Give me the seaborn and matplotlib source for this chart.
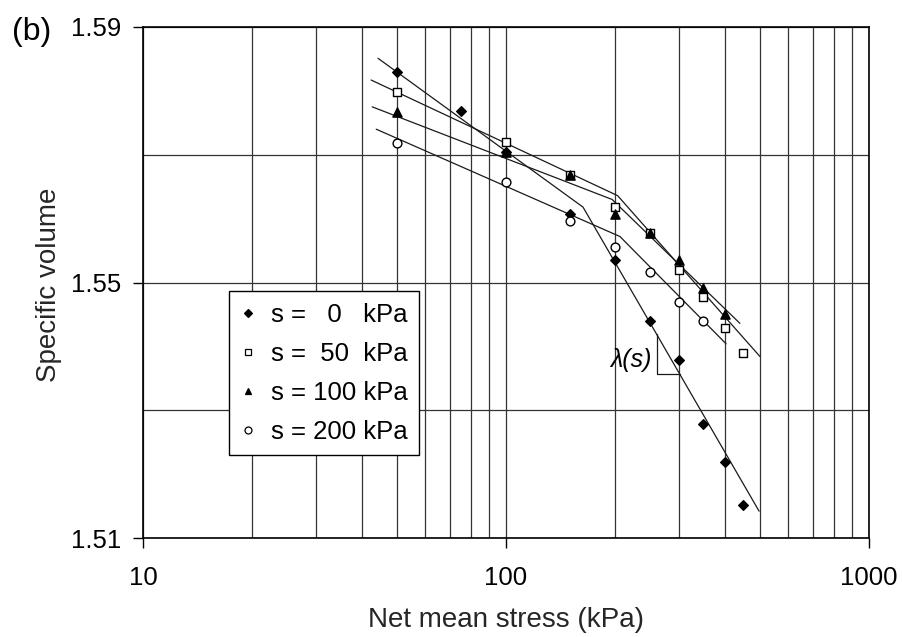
import numpy as np
import pandas as pd
import matplotlib
matplotlib.use("Agg")
import matplotlib.pyplot as plt
from matplotlib.lines import Line2D
from matplotlib.ticker import FixedLocator, FixedFormatter, LogLocator, NullFormatter
import seaborn as sns

# ---------------- data ----------------
series_labels = ["s =   0   kPa", "s =  50  kPa", "s = 100 kPa", "s = 200 kPa"]

stress_s0 = [50, 75, 100, 150, 200, 250, 300, 350, 400, 450]
volume_s0 = [1.5829, 1.5768, 1.5704, 1.5608, 1.5536, 1.5439, 1.5379, 1.5279, 1.5219, 1.5152]

stress_s50 = [50, 100, 150, 200, 250, 300, 350, 400, 450]
volume_s50 = [1.5798, 1.5720, 1.5668, 1.5618, 1.5577, 1.5519, 1.5478, 1.5429, 1.5390]

stress_s100 = [50, 100, 150, 200, 250, 300, 350, 400]
volume_s100 = [1.5767, 1.5705, 1.5668, 1.5607, 1.5577, 1.5536, 1.5491, 1.5450]

stress_s200 = [50, 100, 150, 200, 250, 300, 350]
volume_s200 = [1.5718, 1.5657, 1.5596, 1.5556, 1.5517, 1.5469, 1.5440]

# bilinear fitted lines (start, yield point, end)
fit_stress_s0 = [44.4, 163, 498]
fit_volume_s0 = [1.5851, 1.5618, 1.5142]
fit_stress_s50 = [42.5, 203, 501]
fit_volume_s50 = [1.5817, 1.5636, 1.5384]
fit_stress_s100 = [42.8, 196, 441]
fit_volume_s100 = [1.5775, 1.5630, 1.5436]
fit_stress_s200 = [43.9, 206, 404]
fit_volume_s200 = [1.5740, 1.5572, 1.5404]

# slope triangle for lambda(s)
slope_tri_stress = [260.6, 260.6, 301.0]
slope_tri_volume = [1.5420, 1.5356, 1.5356]
slope_label = "λ(s)"

x_tick_values = [10, 100, 1000]
x_tick_labels = ["10", "100", "1000"]
y_tick_values = [1.51, 1.55, 1.59]
y_tick_labels = ["1.51", "1.55", "1.59"]
y_grid_values = [1.53, 1.57]

x_label = "Net mean stress (kPa)"
y_label = "Specific volume"
panel_label = "(b)"

# ---------------- style ----------------
sns.set_theme(style="white")
plt.rcParams["font.family"] = ["Liberation Sans", "DejaVu Sans"]
plt.rcParams["axes.edgecolor"] = "black"
plt.rcParams["text.color"] = "black"
plt.rcParams["xtick.color"] = "black"
plt.rcParams["ytick.color"] = "black"

fig = plt.figure(figsize=(9.02, 6.37), dpi=100)
ax = fig.add_axes([143 / 902, 1 - 538 / 637, (869 - 143) / 902, (538 - 27) / 637])

points = pd.concat([
    pd.DataFrame({"stress": stress_s0, "volume": volume_s0, "series": series_labels[0]}),
    pd.DataFrame({"stress": stress_s50, "volume": volume_s50, "series": series_labels[1]}),
    pd.DataFrame({"stress": stress_s100, "volume": volume_s100, "series": series_labels[2]}),
    pd.DataFrame({"stress": stress_s200, "volume": volume_s200, "series": series_labels[3]}),
], ignore_index=True)

fits = pd.concat([
    pd.DataFrame({"stress": fit_stress_s0, "volume": fit_volume_s0, "series": series_labels[0]}),
    pd.DataFrame({"stress": fit_stress_s50, "volume": fit_volume_s50, "series": series_labels[1]}),
    pd.DataFrame({"stress": fit_stress_s100, "volume": fit_volume_s100, "series": series_labels[2]}),
    pd.DataFrame({"stress": fit_stress_s200, "volume": fit_volume_s200, "series": series_labels[3]}),
], ignore_index=True)

ax.set_xscale("log")
ax.set_axisbelow(True)

for lab in series_labels:
    sub = fits[fits["series"] == lab]
    sns.lineplot(data=sub, x="stress", y="volume", estimator=None, sort=False,
                 color="#1a1a1a", linewidth=0.9, ax=ax, legend=False)

sns.lineplot(x=slope_tri_stress, y=slope_tri_volume, estimator=None, sort=False,
             color="#1a1a1a", linewidth=0.9, ax=ax, legend=False)

marker_styles = {
    series_labels[0]: dict(marker="D", s=24, color="black"),
    series_labels[1]: dict(marker="s", s=38, color="white"),
    series_labels[2]: dict(marker="^", s=44, color="black"),
    series_labels[3]: dict(marker="o", s=40, color="white"),
}
for lab in series_labels:
    sub = points[points["series"] == lab]
    st = marker_styles[lab]
    sns.scatterplot(data=sub, x="stress", y="volume", marker=st["marker"], s=st["s"],
                    color=st["color"], edgecolor="black", linewidth=1.0, ax=ax,
                    legend=False, zorder=4)

ax.set_xlim(10, 1000)
ax.set_ylim(1.51, 1.59)

ax.xaxis.set_major_locator(FixedLocator(x_tick_values))
ax.xaxis.set_major_formatter(FixedFormatter(x_tick_labels))
ax.xaxis.set_minor_locator(LogLocator(base=10, subs=np.arange(2, 10)))
ax.xaxis.set_minor_formatter(NullFormatter())
ax.set_yticks(y_tick_values, labels=y_tick_labels)
ax.set_yticks(y_grid_values, minor=True)

ax.grid(True, which="both", color="#333333", linewidth=0.9)
ax.tick_params(which="major", direction="out", length=7, width=1.0, labelsize=18.5,
               bottom=True, left=True)
ax.tick_params(axis="x", which="major", pad=13)
ax.tick_params(axis="y", which="major", pad=9)
ax.tick_params(which="minor", length=0)
for sp in ax.spines.values():
    sp.set_color("black")
    sp.set_linewidth(1.2)

ax.set_xlabel(x_label, fontsize=20)
ax.set_ylabel(y_label, fontsize=20)
ax.xaxis.set_label_coords(0.5, -0.135)
ax.yaxis.set_label_coords(-0.112, 0.495)

ax.text(252, 1.5378, slope_label, fontsize=18, style="italic", ha="right", va="center",
        zorder=5)

fig.text(12 / 902, 1 - 32 / 637, panel_label, fontsize=23, ha="left", va="center")

# legend
handles = []
for lab in series_labels:
    st = marker_styles[lab]
    handles.append(Line2D([], [], linestyle="none", marker=st["marker"],
                          markersize=5 if st["marker"] != "D" else 4,
                          markerfacecolor=st["color"], markeredgecolor="black",
                          markeredgewidth=0.9))
leg = ax.legend(handles, series_labels, loc="lower left", bbox_to_anchor=(0.118, 0.162),
                borderaxespad=0, fontsize=18.5, frameon=True, fancybox=False,
                handlelength=0.6, handletextpad=0.6, labelspacing=0.58,
                borderpad=0.45, framealpha=1)
leg.get_frame().set_edgecolor("black")
leg.get_frame().set_linewidth(1.0)

fig.savefig("out.png", dpi=100)
